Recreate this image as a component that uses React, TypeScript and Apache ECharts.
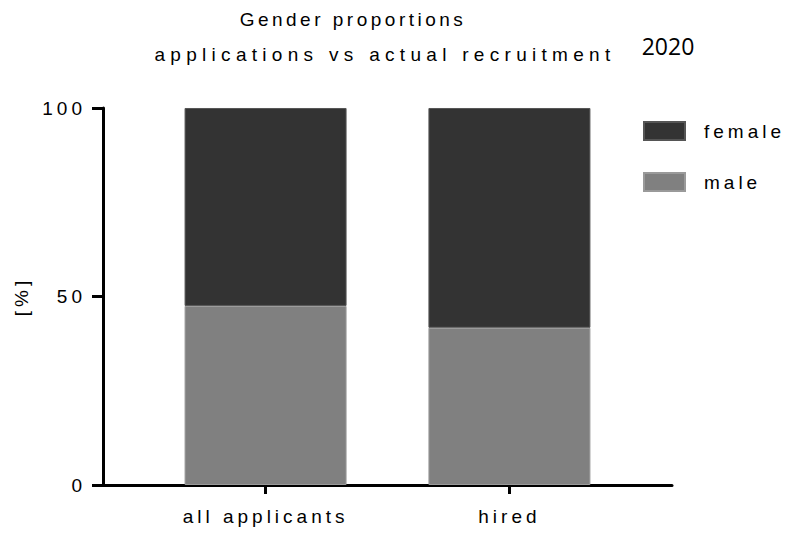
import React, { useEffect, useRef } from "react";
import * as echarts from "echarts";

const categories = ["all applicants", "hired"];
const seriesNames = ["female", "male"];
const maleValues = [47.5, 41.7];
const femaleValues = [52.5, 58.3];
const yTicks = [0, 50, 100];
const titleLine1 = "Gender proportions";
const titleLine2 = "applications vs actual recruitment";
const yearLabel = "2020";

const FONT = "'Liberation Sans', Arial, sans-serif";

export default function App() {
  const ref = useRef<HTMLDivElement>(null);
  useEffect(() => {
    const chart = echarts.init(ref.current as HTMLDivElement, null, { renderer: "svg" });
    const pos = categories.map((_, i) => 2 + 3 * i);
    const txt = { fontFamily: FONT, fontSize: 19, color: "#000", fontWeight: "normal" as const };
    chart.setOption({
      animation: false,
      backgroundColor: "#fff",
      title: [
        {
          text: titleLine1, left: 353, top: 10, textAlign: "center", padding: 0,
          textStyle: { ...txt, fontFamily: "'Liberation Sans', LSone, sans-serif" },
        },
        {
          text: titleLine2, left: 385, top: 45, textAlign: "center", padding: 0,
          textStyle: { ...txt, fontFamily: "'Liberation Sans', LStwo, sans-serif" },
        },
        {
          text: yearLabel, left: 668, top: 34, textAlign: "center", padding: 0,
          textStyle: { fontFamily: "'Open Sans', sans-serif", fontSize: 23, color: "#000", fontWeight: "normal" },
        },
      ],
      legend: {
        orient: "vertical",
        left: 643,
        top: 121,
        padding: 0,
        itemWidth: 41,
        itemHeight: 18,
        itemGap: 31,
        icon: "rect",
        data: seriesNames,
        textStyle: { ...txt, padding: [0, 0, 0, 14] },
      },
      grid: { left: 103, right: 126, top: 108, bottom: 48 },
      xAxis: {
        type: "value",
        min: 0,
        max: 7,
        splitLine: { show: false },
        axisLine: { show: true, lineStyle: { color: "#000", width: 3 } },
        axisTick: { show: true, customValues: pos, length: 9, lineStyle: { color: "#000", width: 3 } },
        axisLabel: {
          customValues: pos,
          formatter: (v: number) => {
            const i = pos.indexOf(v);
            return i >= 0 ? categories[i] : "";
          },
          margin: 22,
          ...txt,
        },
      },
      yAxis: {
        type: "value",
        min: yTicks[0],
        max: yTicks[yTicks.length - 1],
        interval: yTicks[1] - yTicks[0],
        name: "[%]",
        nameLocation: "middle",
        nameRotate: 90,
        nameGap: 72,
        nameTextStyle: { ...txt },
        splitLine: { show: false },
        axisLine: { show: true, lineStyle: { color: "#000", width: 3 } },
        axisTick: { show: true, length: 11, lineStyle: { color: "#000", width: 3 } },
        axisLabel: { margin: 17, ...txt },
      },
      series: [
        {
          name: "male",
          type: "bar",
          stack: "total",
          barWidth: 162,
          encode: { x: 1, y: 0 },
          data: pos.map((p, i) => [maleValues[i], p]),
          itemStyle: { color: "#808080", borderColor: "#9a9a9a", borderWidth: 1 },
        },
        {
          name: "female",
          type: "bar",
          stack: "total",
          barWidth: 162,
          encode: { x: 1, y: 0 },
          data: pos.map((p, i) => [femaleValues[i], p]),
          itemStyle: { color: "#333333", borderColor: "#555555", borderWidth: 1 },
        },
      ],
    });
    return () => chart.dispose();
  }, []);
  return (
    <>
      <style>{`#chartbox text { letter-spacing: 4px; }
#chartbox text[style*="LSone"] { letter-spacing: 3.5px; }
#chartbox text[style*="LStwo"] { letter-spacing: 5.3px; }
#chartbox text[style*="Open Sans"] { letter-spacing: 0; }`}</style>
      <div
        id="chartbox"
        ref={ref}
        style={{ position: "fixed", left: 0, top: 0, width: 798, height: 533 }}
      />
    </>
  );
}
